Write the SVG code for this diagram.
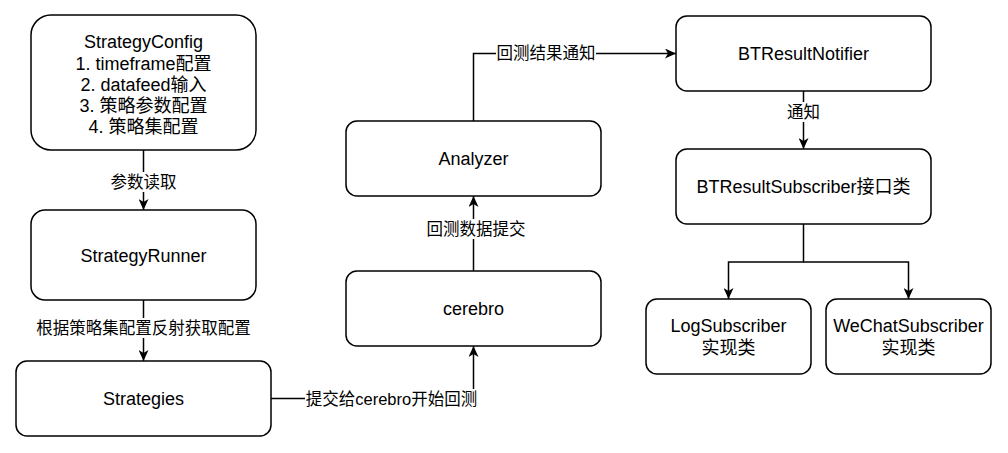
<svg xmlns="http://www.w3.org/2000/svg" width="1008" height="453" viewBox="0 0 1008 453">
<style>
.node rect{fill:#fff;stroke:#000;stroke-width:1.5}
.node text{font-family:"Liberation Sans","Noto Sans CJK SC",sans-serif;font-size:18px;text-anchor:middle;fill:#000}
.edge path{fill:none;stroke:#000;stroke-width:1.5}
.lbl rect{fill:#fff}
.lbl text{font-family:"Liberation Sans","Noto Sans CJK SC",sans-serif;font-size:16.5px;text-anchor:middle;fill:#000}
</style>
<defs>
<marker id="arr" viewBox="0 0 11 10" refX="11" refY="5" markerWidth="11" markerHeight="10" markerUnits="userSpaceOnUse" orient="auto">
<path d="M0,0 L11,5 L0,10 L3,5 Z" fill="#000"/>
</marker>
</defs>
<rect width="1008" height="453" fill="#fff"/>
<g id="connectors" class="edge">
<path d="M143.5,150 V210" marker-end="url(#arr)"/>
<path d="M143.5,300 V361" marker-end="url(#arr)"/>
<path d="M271,398.5 H473.5 V346" marker-end="url(#arr)"/>
<path d="M473.5,271 V196" marker-end="url(#arr)"/>
<path d="M473.5,121 V53.5 H676" marker-end="url(#arr)"/>
<path d="M803.5,91 V149" marker-end="url(#arr)"/>
<path d="M803.5,224 V262 H728.5 V299" marker-end="url(#arr)"/>
<path d="M803.5,262 H908.5 V299" marker-end="url(#arr)"/>
<g class="lbl">
<rect x="109" y="172" width="69" height="20"/><text x="143.5" y="188">参数读取</text>
<rect x="35" y="318" width="217" height="20"/><text x="143.5" y="334">根据策略集配置反射获取配置</text>
<rect x="305" y="389" width="173" height="20"/><text x="391.5" y="405">提交给cerebro开始回测</text>
<rect x="426" y="219" width="101" height="20"/><text x="476" y="235">回测数据提交</text>
<rect x="496" y="43" width="100" height="20"/><text x="546" y="59">回测结果通知</text>
<rect x="786" y="102" width="35" height="20"/><text x="803.5" y="118">通知</text>
</g>
</g>
<g id="StrategyConfig" class="node">
<rect x="31" y="15" width="225" height="135" rx="20"/>
<text x="143.5" y="48">StrategyConfig</text>
<text x="143.5" y="69.5">1. timeframe配置</text>
<text x="143.5" y="90.5">2. datafeed输入</text>
<text x="143.5" y="112">3. 策略参数配置</text>
<text x="143.5" y="133">4. 策略集配置</text>
</g>
<g id="StrategyRunner" class="node">
<rect x="31" y="210" width="225" height="90" rx="14"/>
<text x="143.5" y="261.5">StrategyRunner</text>
</g>
<g id="Strategies" class="node">
<rect x="16" y="361" width="255" height="75" rx="11"/>
<text x="143.5" y="405">Strategies</text>
</g>
<g id="cerebro" class="node">
<rect x="346" y="271" width="255" height="75" rx="11"/>
<text x="473.5" y="315">cerebro</text>
</g>
<g id="Analyzer" class="node">
<rect x="346" y="121" width="255" height="75" rx="11"/>
<text x="473.5" y="165">Analyzer</text>
</g>
<g id="BTResultNotifier" class="node">
<rect x="676" y="16" width="255" height="75" rx="11"/>
<text x="803.5" y="60">BTResultNotifier</text>
</g>
<g id="BTResultSubscriber" class="node">
<rect x="676" y="149" width="255" height="75" rx="11"/>
<text x="803.5" y="193">BTResultSubscriber接口类</text>
</g>
<g id="LogSubscriber" class="node">
<rect x="646" y="299" width="165" height="75" rx="11"/>
<text x="728.5" y="332">LogSubscriber</text>
<text x="728.5" y="354">实现类</text>
</g>
<g id="WeChatSubscriber" class="node">
<rect x="826" y="299" width="165" height="75" rx="11"/>
<text x="908.5" y="332">WeChatSubscriber</text>
<text x="908.5" y="354">实现类</text>
</g>
</svg>
